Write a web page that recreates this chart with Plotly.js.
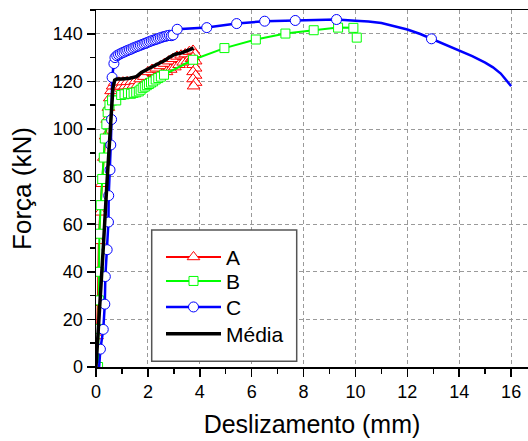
<!DOCTYPE html>
<html><head><meta charset="utf-8">
<script src="https://cdn.plot.ly/plotly-3.0.1.min.js"></script>
<style>html,body{margin:0;padding:0;background:#fff}#chart{width:528px;height:441px}</style>
</head><body><div id="chart"></div>
<script>
// Series A (red, triangles)
const aX = [0, 0.04, 0.07, 0.09, 0.11, 0.16, 0.22, 0.30, 0.37, 0.43, 0.48, 0.53, 0.58, 0.64, 0.72,
  0.80, 0.88, 0.96, 1.04, 1.12, 1.20, 1.28, 1.36, 1.44, 1.52, 1.60, 1.70, 1.76, 1.84, 1.92, 2.00, 2.08,
  2.16, 2.24, 2.32, 2.40, 2.48, 2.56, 2.64, 2.72, 2.80, 2.88, 2.96, 3.04, 3.12, 3.20, 3.28, 3.36,
  3.44, 3.52, 3.60, 3.68, 3.74, 3.82, 3.74, 3.84, 3.74, 3.84, 3.74, 3.84, 3.74, 3.84, 3.76];
const aY = [0, 13, 27, 40, 53, 65, 77, 88, 97, 104, 109, 113, 116, 118, 119.5,
  117.8, 119.6, 117.9, 119.7, 118.0, 119.8, 118.1, 119.9, 118.3, 120.2, 118.5, 121.0, 118.0, 122.0, 119.0, 124.0, 120.0,
  125.0, 121.0, 125.5, 122.0, 126.5, 123.0, 127.5, 124.0, 128.5, 125.0, 129.5, 126.0, 130.5, 127.0, 131.0, 128.0,
  131.5, 128.5, 132.5, 129.5, 133.0, 131.5, 130.0, 128.5, 127.0, 125.5, 124.0, 122.5, 121.0, 119.5, 118.0];

// Series B (green, squares)
const bX = [0.08, 0.10, 0.11, 0.11, 0.13, 0.18, 0.24, 0.30, 0.34, 0.40, 0.45, 0.52, 0.62, 0.78, 0.97,
  1.10, 1.23, 1.35, 1.45, 1.55, 1.65, 1.72, 1.80, 1.88, 1.96, 2.04, 2.12, 2.20, 2.30, 2.40, 2.50, 2.62,
  3.74, 4.95, 6.16, 7.30, 8.39, 9.33, 9.92, 10.05];
const bY = [0, 16, 28, 40, 56, 68, 79, 88, 96, 102, 107, 110, 112, 112, 114.3,
  114.6, 115.0, 114.8, 115.2, 115.4, 115.8, 116.5, 117.3, 117.8, 118.4, 118.9, 119.5, 120.0, 120.8, 121.4, 122.0, 122.8,
  129.1, 134.0, 137.6, 140.1, 141.5, 142.6, 142.5, 138.4];

// Series C (blue, circles): full curve and the points that carry a marker
const cX = [0.12, 0.17, 0.28, 0.34, 0.36, 0.43, 0.48, 0.49, 0.54, 0.57, 0.60, 0.62, 0.69, 0.73, 0.80,
  0.87, 0.94, 1.01, 1.08, 1.15, 1.22, 1.29, 1.36, 1.43, 1.50, 1.57, 1.64, 1.71, 1.78, 1.85, 1.92, 1.99,
  2.06, 2.13, 2.20, 2.27, 2.34, 2.41, 2.48, 2.55, 2.62, 2.69, 2.76, 2.83, 2.90, 2.97, 3.13, 4.27, 5.42,
  6.50, 7.68, 9.27, 10.0, 10.5, 11.0, 11.5, 12.0, 12.5, 12.93, 13.5, 14.0, 14.5, 15.0, 15.3, 15.6, 16.0];
const cY = [0, 7.5, 15.8, 26.4, 38, 49.3, 60.9, 72, 82.8, 93.3, 104, 121.7, 127.5, 130, 130.8,
  131.2, 131.6, 132.0, 132.3, 132.7, 133.0, 133.3, 133.6, 134.0, 134.3, 134.6, 134.9, 135.2, 135.5, 135.8, 136.1, 136.4,
  136.7, 137.0, 137.3, 137.5, 137.8, 138.1, 138.3, 138.6, 138.8, 139.0, 139.2, 139.4, 139.2, 139.5, 141.9, 142.6, 144.3,
  145.3, 145.6, 146.0, 145.5, 145.2, 144.5, 143.3, 141.8, 139.9, 137.9, 135.4, 133.2, 130.6, 127.9, 125.9, 123.3, 118.0];
const cMarkX = [0.17, 0.28, 0.34, 0.36, 0.43, 0.48, 0.49, 0.54, 0.57, 0.60, 0.62, 0.69, 0.73, 0.80,
  0.87, 0.94, 1.01, 1.08, 1.15, 1.22, 1.29, 1.36, 1.43, 1.50, 1.57, 1.64, 1.71, 1.78, 1.85, 1.92, 1.99,
  2.06, 2.13, 2.20, 2.27, 2.34, 2.41, 2.48, 2.55, 2.62, 2.69, 2.76, 2.83, 2.90, 2.97, 3.13, 4.27, 5.42,
  6.50, 7.68, 9.27, 12.93];
const cMarkY = [7.5, 15.8, 26.4, 38, 49.3, 60.9, 72, 82.8, 93.3, 104, 121.7, 127.5, 130, 130.8,
  131.2, 131.6, 132.0, 132.3, 132.7, 133.0, 133.3, 133.6, 134.0, 134.3, 134.6, 134.9, 135.2, 135.5, 135.8, 136.1, 136.4,
  136.7, 137.0, 137.3, 137.5, 137.8, 138.1, 138.3, 138.6, 138.8, 139.0, 139.2, 139.4, 139.2, 139.5, 141.9, 142.6, 144.3,
  145.3, 145.6, 146.0, 137.9];

// Média (black)
const mX = [0, 0.15, 0.28, 0.42, 0.55, 0.65, 0.72, 0.80, 1.00, 1.30, 1.56, 1.75, 2.00, 2.30, 2.66, 2.85, 3.05, 3.30, 3.50, 3.76];
const mY = [0, 25, 50, 77, 103, 117, 120.5, 121, 121, 121.3, 122, 123.8, 125.2, 126.8, 128.9, 130.3, 131.4, 132, 132.8, 134];

const names = ['A', 'B', 'C', 'Média'];
const xTitle = 'Deslizamento (mm)';
const yTitle = 'Força (kN)';

const RED = '#ff0000', GREEN = '#00ff00', BLUE = '#0000ff', BLACK = '#000000';
const FONT = 'Liberation Sans, Arial, sans-serif';

const traces = [
  {x: aX, y: aY, name: names[0], mode: 'lines+markers', legend: 'legend',
   line: {color: RED, width: 2},
   marker: {symbol: 'triangle-up', size: 11, color: '#ffffff', line: {color: RED, width: 1}}},
  {x: bX, y: bY, name: names[1], mode: 'lines+markers', legend: 'legend2',
   line: {color: GREEN, width: 2},
   marker: {symbol: 'square', size: 9, color: '#ffffff', line: {color: GREEN, width: 1}}},
  {x: cX, y: cY, name: names[2], mode: 'lines', showlegend: false,
   line: {color: BLUE, width: 2.5}},
  {x: cMarkX, y: cMarkY, name: names[2], mode: 'markers', showlegend: false,
   marker: {symbol: 'circle', size: 10, color: '#ffffff', line: {color: BLUE, width: 1}}},
  {x: [null], y: [null], name: names[2], mode: 'lines+markers', legend: 'legend3',
   line: {color: BLUE, width: 2.5},
   marker: {symbol: 'circle', size: 10, color: '#ffffff', line: {color: BLUE, width: 1}}},
  {x: mX, y: mY, name: names[3], mode: 'lines', legend: 'legend4',
   line: {color: BLACK, width: 3.5}}
];

const L = 96, T = 10, W = 432, H = 357;
const px = v => (v - L) / W;
const py = v => (T + H - v) / H;
const leg = (yc) => ({x: px(161), y: py(yc), xanchor: 'left', yanchor: 'middle',
  bgcolor: 'rgba(0,0,0,0)', borderwidth: 0, itemwidth: 55,
  font: {family: FONT, size: 21, color: '#000'}});

const axisCommon = {
  showline: true, linecolor: '#000', linewidth: 1.5,
  ticks: 'outside', ticklen: 8, tickwidth: 1.5, tickcolor: '#000',
  showgrid: true, gridcolor: '#9a9a9a', gridwidth: 1, griddash: '4px,3px',
  zeroline: false, tickfont: {family: FONT, size: 18, color: '#000'}
};

const layout = {
  width: 528, height: 441,
  margin: {l: L, r: 0, t: T, b: 441 - T - H, pad: 0},
  paper_bgcolor: '#fff', plot_bgcolor: '#fff',
  font: {family: FONT, color: '#000'},
  xaxis: Object.assign({}, axisCommon, {
    range: [0, 16.65], tick0: 0, dtick: 2, mirror: true,
    minor: {dtick: 1, ticks: 'outside', ticklen: 5, tickwidth: 1.5, tickcolor: '#000', showgrid: false},
    title: {text: xTitle, font: {family: FONT, size: 25, color: '#000'}, standoff: 14}
  }),
  yaxis: Object.assign({}, axisCommon, {
    range: [0, 150], tick0: 0, dtick: 20,
    minor: {dtick: 10, ticks: 'outside', ticklen: 5, tickwidth: 1.5, tickcolor: '#000', showgrid: false},
    title: {text: yTitle, font: {family: FONT, size: 26, color: '#000'}, standoff: 14}
  }),
  legend: leg(257.3), legend2: leg(281.3), legend3: leg(307.3), legend4: leg(334),
  shapes: [{type: 'rect', xref: 'paper', yref: 'paper', layer: 'above',
    x0: px(151.7), x1: px(296.7), y0: py(361.3), y1: py(230),
    fillcolor: '#ffffff', line: {color: '#555555', width: 1.5}}]
};

Plotly.newPlot('chart', traces, layout, {displayModeBar: false, staticPlot: true});
</script>
</body></html>
